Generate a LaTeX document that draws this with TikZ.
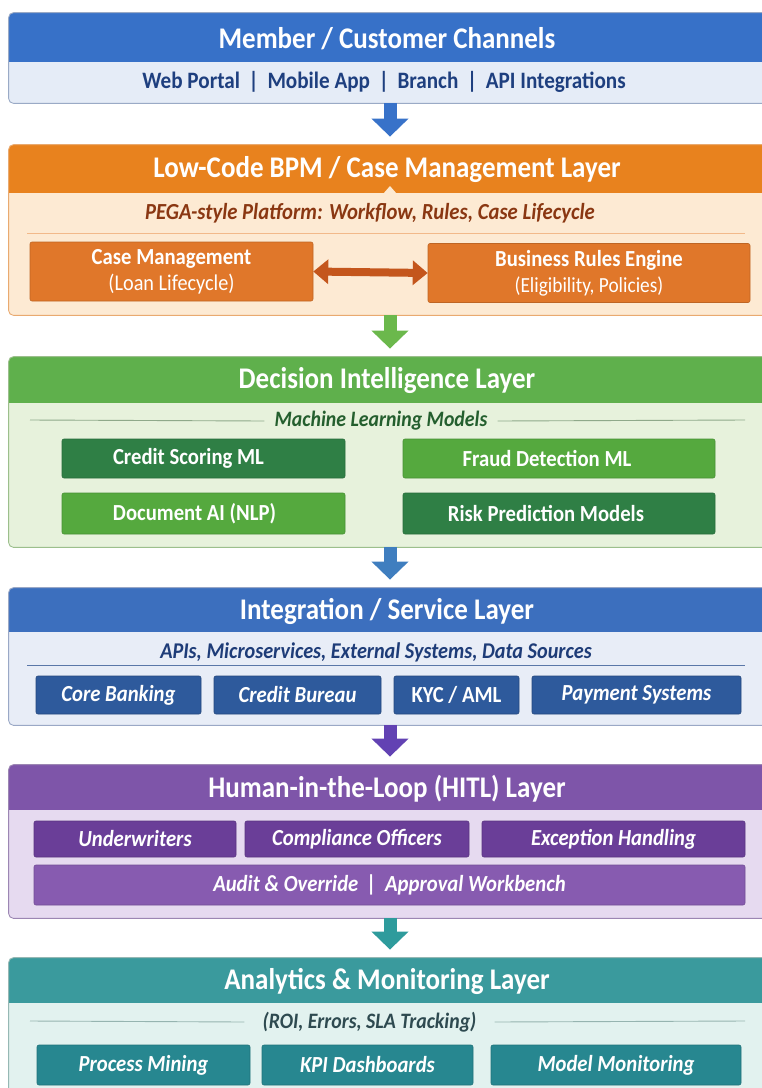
\documentclass[tikz,border=0pt]{standalone}
\usepackage{fontspec}
\setmainfont{Carlito}[FakeStretch=0.9]
\usetikzlibrary{arrows.meta,calc}

% palette
\definecolor{blueHead}{HTML}{3771C8}
\definecolor{blueBody}{HTML}{E5ECF7}
\definecolor{blueEdge}{HTML}{9AAAC6}
\definecolor{blueInk}{HTML}{1E3F7F}
\definecolor{orHead}{HTML}{E8821E}
\definecolor{orBody}{HTML}{FDEAD3}
\definecolor{orEdge}{HTML}{E9AA70}
\definecolor{orBox}{HTML}{E0772A}
\definecolor{orInk}{HTML}{8A3712}
\definecolor{orRule}{HTML}{F2B98A}
\definecolor{orLink}{HTML}{C4561C}
\definecolor{grHead}{HTML}{5FB04C}
\definecolor{grBody}{HTML}{E7F2DC}
\definecolor{grEdge}{HTML}{9CBF8C}
\definecolor{grDark}{HTML}{2F7F45}
\definecolor{grLight}{HTML}{55A93E}
\definecolor{grInk}{HTML}{245F2E}
\definecolor{grRule}{HTML}{8FA98A}
\definecolor{inHead}{HTML}{3C6FBE}
\definecolor{inBody}{HTML}{E8EDF7}
\definecolor{inEdge}{HTML}{9AA8C6}
\definecolor{inBox}{HTML}{2E5A9C}
\definecolor{inInk}{HTML}{1E3C78}
\definecolor{inRule}{HTML}{5A77A8}
\definecolor{puHead}{HTML}{7E55A9}
\definecolor{puBody}{HTML}{E6DAF0}
\definecolor{puEdge}{HTML}{9C86B3}
\definecolor{puDark}{HTML}{6A3E98}
\definecolor{puLight}{HTML}{875BB0}
\definecolor{teHead}{HTML}{3A9A9D}
\definecolor{teBody}{HTML}{E2F2EF}
\definecolor{teEdge}{HTML}{96B8B4}
\definecolor{teBox}{HTML}{278790}
\definecolor{teInk}{HTML}{2E4A50}
\definecolor{teRule}{HTML}{96B4B0}
\definecolor{arBlue}{HTML}{3872C9}
\definecolor{arGreen}{HTML}{6BB84C}
\definecolor{arSteel}{HTML}{3F7EBF}
\definecolor{arPurple}{HTML}{6242B3}
\definecolor{arTeal}{HTML}{2E9B9C}

\tikzset{
  layerbox/.style={rounded corners=5pt, minimum width=762pt, inner sep=0pt, line width=0.8pt},
  headtext/.style={text=white, font=\bfseries\fontsize{30}{33}\selectfont, inner sep=0pt},
  subtext/.style={font=\bfseries\itshape\fontsize{23}{26}\selectfont, inner sep=0pt, inner xsep=10pt},
  bx/.style={rounded corners=2pt, text=white, inner sep=0pt, line width=0.6pt,
             font=\bfseries\fontsize{23}{26}\selectfont},
  bxi/.style={bx, font=\bfseries\itshape\fontsize{23}{26}\selectfont},
  flow/.style={draw=#1, line width=13pt, shorten >=8pt,
               -{Triangle[width=36pt,length=18pt]}},
  rulel/.style={line width=0.9pt}
}

% name, top, header bottom, bottom, head colour, body colour, edge colour, title
\newcommand\drawlayer[8]{%
  \node[layerbox, fill=#6, minimum height={#4-#2}] (#1) at (390,{(#2+#4)/2}) {};
  \begin{scope}
    \clip[rounded corners=5pt] (#1.north west) rectangle (#1.south east);
    \fill[#5] (#1.north west) rectangle (771,#3);
  \end{scope}
  \draw[#7, line width=0.9pt, rounded corners=5pt] (#1.north west) rectangle (#1.south east);
  \node[headtext] (#1-t) at (387,{(#2+#3)/2+1}) {#8};
}

\begin{document}
\begin{tikzpicture}[x=1pt,y=-1pt]
\useasboundingbox (0,0) rectangle (762,1088);
\clip (0,0) rectangle (762,1088);
\fill[white] (0,0) rectangle (762,1088);

% ---- channels
\drawlayer{L1}{13}{62}{103}{blueHead}{blueBody}{blueEdge}{Member / Customer Channels}
\node[font=\bfseries\fontsize{23.5}{26}\selectfont, text=blueInk, inner sep=0pt] (L1-s) at (384,82)
  {Web Portal \,|\, Mobile App \,|\, Branch \,|\, API Integrations};

% ---- BPM layer
\drawlayer{L2}{145}{193}{315}{orHead}{orBody}{orEdge}{Low-Code BPM / Case Management Layer}
\fill[orBody] (383,194) -- (390,186) -- (397,194) -- cycle;
\node[subtext, text=orInk] (L2-s) at (370,213) {PEGA-style Platform: Workflow, Rules, Case Lifecycle};
\draw[orRule, rulel] (27,233) -- (745,233);
\node[bx, fill=orBox, draw=orBox!85!black, minimum width=283pt, minimum height=59pt, align=center] (cm) at (171.5,271.5)
  {Case Management\\[0pt]{\mdseries\fontsize{22.5}{25}\selectfont (Loan Lifecycle)}};
\node[bx, fill=orBox, draw=orBox!85!black, minimum width=322pt, minimum height=59pt, align=center] (bre) at (589,273)
  {Business Rules Engine\\[0pt]{\mdseries\fontsize{21.5}{24}\selectfont (Eligibility, Policies)}};
\draw[orLink, line width=8pt, {Triangle[width=24pt,length=15pt]}-{Triangle[width=24pt,length=15pt]}] (cm.east) -- (bre.west);

% ---- decision intelligence
\drawlayer{L3}{357}{403}{547}{grHead}{grBody}{grEdge}{Decision Intelligence Layer}
\node[subtext, text=grInk, font=\bfseries\itshape\fontsize{22}{25}\selectfont] (L3-s) at (381,421) {Machine Learning Models};
\draw[grRule, rulel] (30,420) -- (L3-s.west);
\draw[grRule, rulel] (L3-s.east) -- (745,420);
\node[bx, fill=grDark, draw=grDark!85!black, minimum width=283pt, minimum height=39pt] (cs) at (203.5,458.5) {\hspace*{-30pt}Credit Scoring ML};
\node[bx, fill=grLight, draw=grLight!85!black, minimum width=312pt, minimum height=39pt] (fd) at (559,458.5) {\hspace*{-24pt}Fraud Detection ML};
\node[bx, fill=grLight, draw=grLight!85!black, minimum width=283pt, minimum height=41pt] (dai) at (203.5,513.5) {\hspace*{-18pt}Document AI (NLP)};
\node[bx, fill=grDark, draw=grDark!85!black, minimum width=312pt, minimum height=41pt] (rp) at (559,513.5) {\hspace*{-26pt}Risk Prediction Models};

% ---- integration
\drawlayer{L4}{588}{632}{725}{inHead}{inBody}{inEdge}{Integration / Service Layer}
\node[subtext, text=inInk, font=\bfseries\itshape\fontsize{22.5}{25}\selectfont] (L4-s) at (376,652) {APIs, Microservices, External Systems, Data Sources};
\draw[inRule, rulel] (27,665) -- (745,665);
\node[bxi, fill=inBox, draw=inBox!80!black, minimum width=165pt, minimum height=38pt] (cb) at (118.5,695) {Core Banking};
\node[bxi, fill=inBox, draw=inBox!80!black, minimum width=167pt, minimum height=38pt] (cr) at (297.5,695) {Credit Bureau};
\node[bx, fill=inBox, draw=inBox!80!black, minimum width=125pt, minimum height=38pt] (kyc) at (456.5,695) {KYC / AML};
\node[bxi, fill=inBox, draw=inBox!80!black, minimum width=209pt, minimum height=38pt] (ps) at (636.5,695) {Payment Systems};

% ---- human in the loop
\drawlayer{L5}{765}{810}{918}{puHead}{puBody}{puEdge}{Human-in-the-Loop (HITL) Layer}
\node[bxi, fill=puDark, draw=puDark!85!black, minimum width=202pt, minimum height=36pt] (uw) at (135,839) {Underwriters};
\node[bxi, fill=puDark, draw=puDark!85!black, minimum width=224pt, minimum height=36pt] (co) at (357,839) {Compliance Officers};
\node[bxi, fill=puDark, draw=puDark!85!black, minimum width=263pt, minimum height=36pt] (eh) at (613.5,839) {Exception Handling};
\node[bxi, fill=puLight, draw=puLight!85!black, minimum width=711pt, minimum height=40pt] (aw) at (389.5,885) {Audit \& Override \,|\, Approval Workbench};

% ---- analytics
\drawlayer{L6}{958}{1003}{1110}{teHead}{teBody}{teEdge}{Analytics \& Monitoring Layer}
\node[subtext, text=teInk, font=\bfseries\itshape\fontsize{22}{25}\selectfont, inner xsep=18pt] (L6-s) at (369.5,1022) {(ROI, Errors, SLA Tracking)};
\draw[teRule, rulel] (30,1021) -- (L6-s.west);
\draw[teRule, rulel] (L6-s.east) -- (745,1021);
\node[bxi, fill=teBox, draw=teBox!85!black, minimum width=213pt, minimum height=40pt] (pm) at (143.5,1065) {Process Mining};
\node[bxi, fill=teBox, draw=teBox!85!black, minimum width=211pt, minimum height=40pt] (kpi) at (367.5,1065) {KPI Dashboards};
\node[bxi, fill=teBox, draw=teBox!85!black, minimum width=250pt, minimum height=40pt] (mm) at (616,1065) {Model Monitoring};

% ---- flow between layers
\draw[flow=arBlue] (L1.south) -- (L2.north);
\draw[flow=arGreen] (L2.south) -- (L3.north);
\draw[flow=arSteel] (L3.south) -- (L4.north);
\draw[flow=arPurple] (L4.south) -- (L5.north);
\draw[flow=arTeal] (L5.south) -- (L6.north);
\end{tikzpicture}
\end{document}
